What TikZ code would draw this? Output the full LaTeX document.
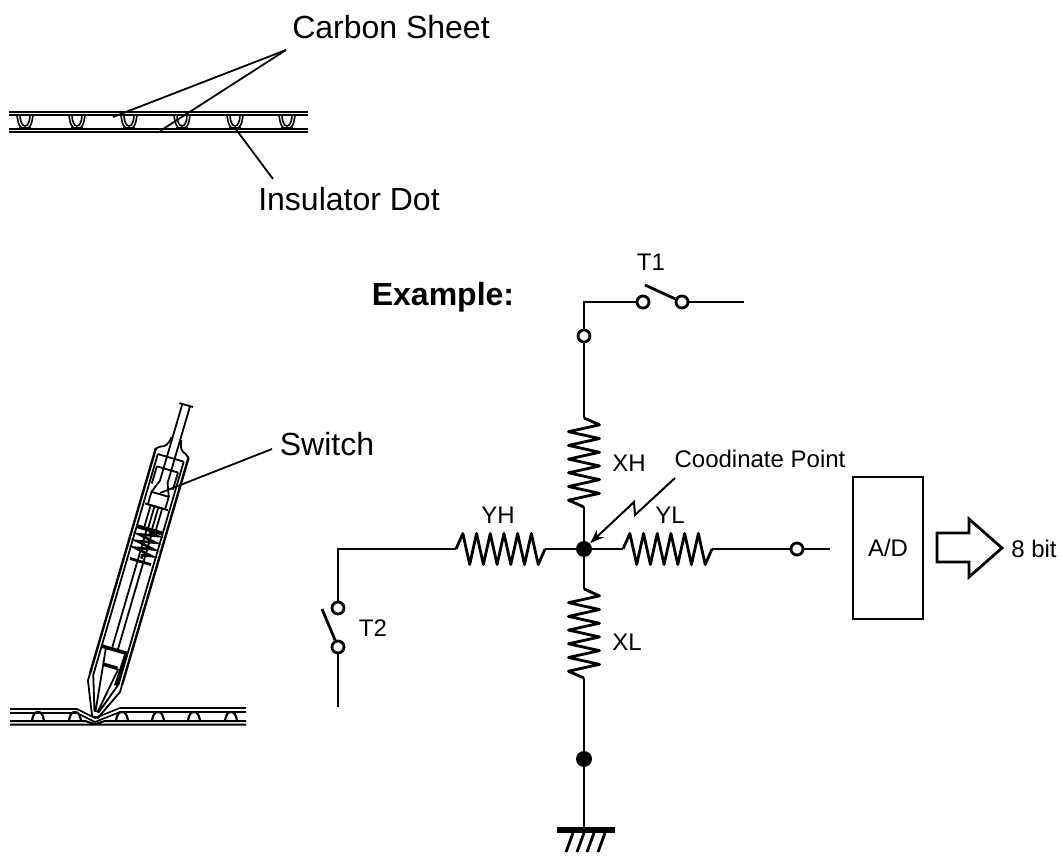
\documentclass[tikz,border=0pt]{standalone}
\usepackage{fontspec}
\setmainfont{Liberation Sans}
\usetikzlibrary{decorations.pathmorphing,arrows.meta}
\def\dotup#1{\draw[sheetline] (#1-8,115) .. controls (#1-7,124) and (#1-5,129) .. (#1,129) .. controls (#1+5,129) and (#1+7,124) .. (#1+8,115);
    \draw[sheetline] (#1-5,115) .. controls (#1-5,121) and (#1-3,126) .. (#1,126) .. controls (#1+3,126) and (#1+5,121) .. (#1+5,115);
    \draw[sheetline,line width=1.2pt] (#1-6,128) -- (#1+6,128)}
\def\dotdown#1{\draw[sheetline,line width=1.1pt] (#1-6,721) .. controls (#1-5,714) and (#1-3,712) .. (#1,712) .. controls (#1+3,712) and (#1+5,714) .. (#1+6,721)}
\def\resv#1{\draw[resistor] (#1) -- ++(15.5,6.85) -- ++(-31,6.85) -- ++(31,6.85) -- ++(-31,6.85) -- ++(31,6.85) -- ++(-31,6.85) -- ++(31,6.85) -- ++(-31,6.85) -- ++(31,6.85) -- ++(-31,6.85) -- ++(31,6.85) -- ++(-31,6.85) -- ++(15.5,6.85)}
\def\resh#1{\draw[resistor] (#1) -- ++(6.85,-15.5) -- ++(6.85,31) -- ++(6.85,-31) -- ++(6.85,31) -- ++(6.85,-31) -- ++(6.85,31) -- ++(6.85,-31) -- ++(6.85,31) -- ++(6.85,-31) -- ++(6.85,31) -- ++(6.85,-31) -- ++(6.85,31) -- ++(6.85,-15.5)}
\tikzstyle{wire}=[line width=1.4pt]
\tikzstyle{resistor}=[line width=1.4pt,line join=round]
\tikzstyle{sheetline}=[line width=.8pt]
\tikzstyle{penline}=[line width=.9pt]
\tikzstyle{leader}=[line width=.9pt]
\tikzstyle{term}=[circle,draw,fill=white,line width=1.4pt,minimum size=6pt,inner sep=0pt]
\tikzstyle{joint}=[circle,fill=black,minimum size=8pt,inner sep=0pt]
\tikzstyle{biglabel}=[font=\fontsize{16}{18}\selectfont,inner sep=0pt]
\tikzstyle{smalllabel}=[font=\fontsize{12}{14}\selectfont,inner sep=0pt]
\begin{document}
\begin{tikzpicture}[x=.5pt,y=-.5pt]
    \useasboundingbox (0,0) rectangle (1062,856);
    % sheet at the top
    \node[biglabel] (carbon) at (391,27) {Carbon Sheet};
    \node[biglabel] (insulator) at (349,199) {Insulator Dot};
    \coordinate (carbontip) at (286,50);
    \coordinate (upperend) at (113,117);
    \coordinate (lowerend) at (160,131);
    \coordinate (dotend) at (235,128);
    \coordinate (insulatortip) at (273,179);
    \draw[sheetline] (9,112) -- (308,112) (9,115) -- (308,115) (9,129) -- (308,129) (9,132) -- (308,132);
    \dotup{25}; \dotup{77}; \dotup{129}; \dotup{182}; \dotup{235}; \dotup{287};
    \draw[leader] (carbontip) -- (upperend);
    \draw[leader] (carbontip) -- (lowerend);
    \draw[leader] (insulatortip) -- (dotend);
    % pen
    \node[biglabel] (switch) at (327,444) {Switch};
    \coordinate (switchtip) at (272,449);
    \coordinate (switchend) at (160,493);
    \draw[sheetline] (10,709) -- (77,709) -- (95,718) -- (120,708) -- (246,708);
    \draw[sheetline] (10,713) -- (77,713) -- (95,722) -- (120,712) -- (246,712);
    \draw[sheetline,line width=1pt] (10,721) -- (85,721) -- (95,724) -- (105,721) -- (246,721) (10,724.5) -- (246,724.5);
    \dotdown{38}; \dotdown{75}; \dotdown{122}; \dotdown{158}; \dotdown{194}; \dotdown{231};
    \begin{scope}[shift={(95,717)},rotate=-16.3]
        \draw[penline,line width=1.2pt] (-17,-40) -- (-17,-275) (17,-38) -- (17,-275);
        \draw[penline] (-13.5,-40) -- (-13.5,-270) (13.5,-38) -- (13.5,-270);
        \draw[penline] (-17,-40) -- (-17,-33) -- (-3,0) -- (3,0) -- (17,-31) -- (17,-38);
        \draw[penline] (-13.5,-40) -- (-2,-5) (13.5,-38) -- (2,-5) (-9,-70) -- (-1,-5) (9,-53) -- (1,-5);
        \draw[penline] (-17,-275) -- (-13,-278) .. controls (-8,-279) and (-6,-283) .. (-5,-290);
        \draw[penline] (17,-275) -- (13,-278) .. controls (8,-279) and (6,-283) .. (5,-290);
        \draw[penline] (-13.5,-270) -- (13.5,-270);
        \draw[penline] (-4,-325) -- (-4,-245) -- (-9,-232) (4,-325) -- (4,-245) -- (9,-232) (-7,-325) -- (7,-325);
        \draw[penline] (-11,-258) -- (-11,-240) (11,-258) -- (11,-240) (-11,-258) -- (11,-258);
        \draw[penline] (-9,-232) rectangle (9,-219);
        \draw[penline] (-12,-219) -- (12,-219) (-6,-219) -- (-6,-195) (6,-219) -- (6,-195) (-2,-219) -- (-2,-195) (2,-219) -- (2,-195);
        \draw[line width=2pt] (-13,-195) -- (13,-195);
        \draw[line width=1.3pt,decorate,decoration={zigzag,amplitude=4.5pt,segment length=3.5pt}] (0,-193) -- (0,-165);
        \draw[line width=1.4pt] (-11,-162) -- (11,-162);
        \draw[penline] (-3,-195) -- (-3,-70) (3,-195) -- (3,-70);
        \draw[line width=1.8pt] (-13,-70) -- (13,-70);
        \draw[line width=1.8pt] (-7,-53) -- (8,-53);
        \draw[line width=1.6pt] (12,-70) -- (11,-36);
    \end{scope}
    \draw[leader] (switchtip) -- (switchend);
    % circuit
    \node[biglabel,font=\fontsize{16}{18}\selectfont\bfseries] (example) at (443,297) {Example:};
    \node[smalllabel] (tonelabel) at (651,262) {T1};
    \node[smalllabel] (ttwolabel) at (373,628) {T2};
    \node[smalllabel] (xhlabel) at (629,463) {XH};
    \node[smalllabel] (xllabel) at (627,642) {XL};
    \node[smalllabel] (yhlabel) at (498,515) {YH};
    \node[smalllabel] (yllabel) at (670,515) {YL};
    \node[smalllabel] (pointlabel) at (760,459) {Coodinate Point};
    \node[joint] (center) at (584,549) {};
    \node[joint] (lowerjoint) at (584,759) {};
    \node[term] (topterm) at (584,336) {};
    \node[term] (toneleft) at (643,302) {};
    \node[term] (toneright) at (682,302) {};
    \node[term] (ttwotop) at (338,608) {};
    \node[term] (ttwobottom) at (338,647) {};
    \node[term] (ylterm) at (797,549) {};
    \node[draw,line width=1.4pt,minimum width=35pt,minimum height=71pt,inner sep=0pt,smalllabel] (adc) at (888,548) {A/D};
    \node[smalllabel] (eightbit) at (1034,549) {8 bit};
    \coordinate (topcorner) at (584,302);
    \coordinate (toneend) at (744,302);
    \coordinate (toneblade) at (645,285);
    \coordinate (ttwocorner) at (338,549);
    \coordinate (ttwoend) at (338,707);
    \coordinate (ttwoblade) at (322,609);
    \coordinate (ylend) at (830,549);
    \coordinate (xhtop) at (584,418);
    \coordinate (xhbottom) at (584,507);
    \coordinate (xltop) at (584,589);
    \coordinate (xlbottom) at (584,678);
    \coordinate (yhleft) at (456,549);
    \coordinate (yhright) at (545,549);
    \coordinate (ylleft) at (623,549);
    \coordinate (ylright) at (712,549);
    \coordinate (ground) at (584,830);
    \coordinate (pointstart) at (675,478);
    \draw[wire] (topterm) -- (topcorner) -- (toneleft);
    \draw[wire] (toneright) -- (toneend);
    \draw[wire] (toneright) -- (toneblade);
    \draw[wire] (topterm) -- (xhtop);
    \resv{xhtop};
    \draw[wire] (xhbottom) -- (center) -- (xltop);
    \resv{xltop};
    \draw[wire] (xlbottom) -- (lowerjoint) -- (ground);
    \draw[wire] (ttwotop) -- (ttwocorner) -- (yhleft);
    \resh{yhleft};
    \draw[wire] (yhright) -- (center) -- (ylleft);
    \resh{ylleft};
    \draw[wire] (ylright) -- (ylterm);
    \draw[wire] (ylterm) -- (ylend);
    \draw[wire] (ttwobottom) -- (ttwoend);
    \draw[wire] (ttwobottom) -- (ttwoblade);
    \draw[leader,line width=1pt,-{Stealth[length=7pt,width=5pt]}] (pointstart) -- (635,515) -- (634,502) -- (center);
    % ground
    \draw[line width=3pt] (557,830) -- (615,830);
    \draw[wire] (573,833) -- (566,852) (584,833) -- (577,852) (594,833) -- (587,852) (605,833) -- (598,852);
    % 8 bit arrow
    \draw[wire,line join=miter] (937,533) -- (969,533) -- (969,519) -- (1002,548) -- (969,577) -- (969,562) -- (937,562) -- cycle;
\end{tikzpicture}
\end{document}
